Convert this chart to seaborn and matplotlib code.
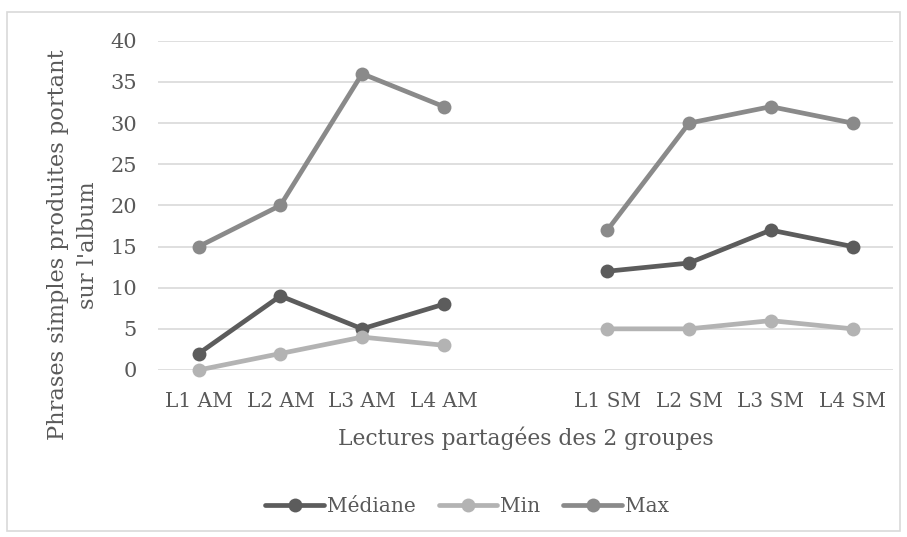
import matplotlib
matplotlib.use('Agg')
import matplotlib.pyplot as plt
from matplotlib.lines import Line2D
from matplotlib.patches import Rectangle
import pandas as pd
import seaborn as sns

# Data
LECTURES = ['L1 AM', 'L2 AM', 'L3 AM', 'L4 AM', '', 'L1 SM', 'L2 SM', 'L3 SM', 'L4 SM']
GROUPES = ['AM', 'AM', 'AM', 'AM', None, 'SM', 'SM', 'SM', 'SM']
MEDIANE = [2, 9, 5, 8, None, 12, 13, 17, 15]
MINI = [0, 2, 4, 3, None, 5, 5, 6, 5]
MAXI = [15, 20, 36, 32, None, 17, 30, 32, 30]

SERIES = {'Médiane': MEDIANE, 'Min': MINI, 'Max': MAXI}
COLORS = {'Médiane': '#5c5c5c', 'Min': '#b3b3b3', 'Max': '#8a8a8a'}

# long format, skip the empty slot between the two groups
rows = []
for name, values in SERIES.items():
    for pos, (grp, v) in enumerate(zip(GROUPES, values)):
        if v is not None:
            rows.append({'pos': pos, 'groupe': grp, 'serie': name, 'value': v})
df = pd.DataFrame(rows)

sns.set_style('white')
plt.rcParams['font.family'] = ['DejaVu Serif']
TXT = '#595959'

fig = plt.figure(figsize=(9.07, 5.37), dpi=100)
ax = fig.add_axes([0.174, 0.311, 0.811, 0.613])

# outer chart frame
fig.patches.append(Rectangle((0.008, 0.012), 0.984, 0.966, transform=fig.transFigure,
                             fill=False, edgecolor='#d9d9d9', linewidth=1.2))

sns.lineplot(data=df, x='pos', y='value', hue='serie', units='groupe', estimator=None,
             palette=COLORS, hue_order=list(SERIES), marker='o', markersize=10,
             markeredgewidth=0, linewidth=3.4, legend=False, ax=ax, zorder=3)

ax.set_xlim(-0.5, len(LECTURES) - 0.5)
ax.set_ylim(0, 40)
ax.set_yticks(range(0, 41, 5))
ax.set_xticks(range(len(LECTURES)))
ax.set_xticklabels(LECTURES)
ax.grid(axis='y', color='#d9d9d9', linewidth=1.2)
ax.set_axisbelow(True)
for line in ax.lines:
    line.set_clip_on(False)
sns.despine(ax=ax, left=True, bottom=True)
ax.tick_params(axis='both', length=0, colors=TXT)
ax.tick_params(axis='y', labelsize=15, pad=15)
ax.tick_params(axis='x', labelsize=14.5, pad=16)

ax.set_xlabel('Lectures partagées des 2 groupes', fontsize=15.7, color=TXT, labelpad=11)
ax.set_ylabel('')
fig.text(73 / 907, 1 - 245 / 537, "Phrases simples produites portant\nsur l'album",
         rotation=90, ha='center', va='center', multialignment='center',
         fontsize=16.2, color=TXT, linespacing=1.45)

handles = [Line2D([], [], color=COLORS[n], marker='o', markersize=10, markeredgewidth=0,
                  linewidth=3.4) for n in SERIES]
fig.legend(handles, list(SERIES), loc='center', bbox_to_anchor=(0.515, 1 - 507 / 537), ncol=3,
           frameon=False, fontsize=14.5, handlelength=2.9, handletextpad=0.15,
           columnspacing=1.15, labelcolor=TXT)

fig.savefig('out.png', dpi=100)
